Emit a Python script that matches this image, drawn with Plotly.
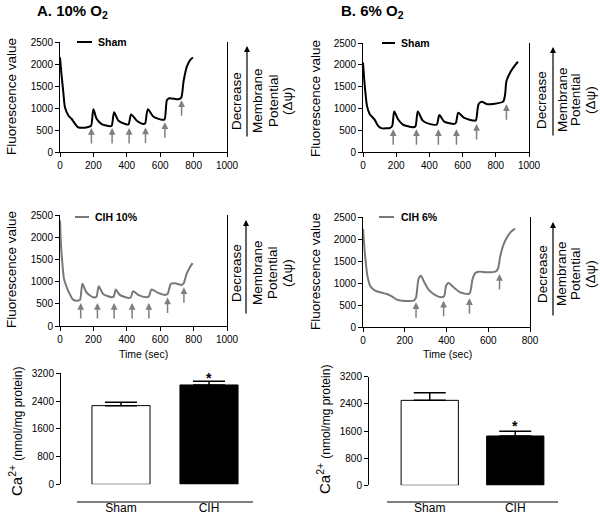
import plotly.graph_objects as go

# ---------------- data ----------------
shamA_t = [0, 8, 20, 30, 50, 70, 90, 106, 120, 170, 186, 200, 220, 250, 300, 310, 324, 350, 390, 410, 426, 460, 500, 510, 526, 560, 610, 626, 640, 654, 710, 726, 740, 760, 780, 796]
shamA_v = [2150, 1800, 1350, 1010, 830, 750, 640, 565, 550, 570, 595, 973, 749, 636, 584, 600, 906, 711, 636, 625, 853, 711, 636, 650, 973, 801, 734, 740, 1175, 1220, 1198, 1235, 1609, 1946, 2096, 2148]

shamB_t = [0, 10, 24, 40, 70, 90, 110, 164, 176, 188, 210, 240, 300, 316, 330, 360, 400, 444, 460, 490, 550, 560, 574, 610, 670, 680, 696, 714, 750, 780, 844, 856, 864, 890, 920, 934]
shamB_v = [2050, 1545, 1057, 870, 742, 607, 547, 555, 600, 930, 757, 630, 570, 590, 930, 720, 645, 630, 847, 697, 645, 670, 900, 780, 720, 725, 1095, 1155, 1095, 1100, 1155, 1320, 1620, 1845, 2010, 2070]

cihA_t = [0, 4, 12, 24, 44, 58, 78, 108, 120, 134, 158, 198, 218, 232, 258, 308, 322, 334, 358, 408, 424, 438, 468, 518, 532, 548, 588, 628, 644, 664, 688, 728, 740, 758, 778, 794]
cihA_v = [2380, 1965, 1513, 1062, 836, 723, 595, 572, 590, 949, 760, 648, 660, 896, 723, 648, 665, 821, 700, 633, 650, 783, 700, 648, 665, 821, 745, 700, 720, 949, 964, 926, 960, 1175, 1325, 1416]

cihB_t = [0, 10, 21, 34, 58, 82, 114, 138, 162, 186, 245, 254, 266, 277, 290, 314, 346, 378, 389, 398, 410, 434, 466, 506, 514, 525, 538, 554, 594, 634, 646, 658, 674, 690, 706, 728]
cihB_v = [2230, 1621, 1167, 939, 826, 788, 750, 697, 621, 598, 606, 670, 1091, 1167, 1053, 849, 727, 674, 700, 939, 1000, 902, 788, 750, 800, 1091, 1227, 1258, 1242, 1258, 1318, 1621, 1886, 2038, 2152, 2235]

# addition arrows (time, tip value)
shamA_arrow_t = [188, 312, 414, 512, 628, 728]
shamA_arrow_v = [546, 546, 546, 555, 674, 1175]
shamB_arrow_t = [182, 322, 454, 563, 684, 864]
shamB_arrow_v = [520, 520, 520, 520, 645, 1095]
cihA_arrow_t = [124, 224, 324, 432, 532, 644, 742]
cihA_arrow_v = [520, 520, 520, 520, 520, 640, 873]
cihB_arrow_t = [254, 386, 510, 654]
cihB_arrow_v = [560, 598, 651, 1204]

bar_cats = ["Sham", "CIH"]
ca_10 = [2268, 2864]
ca_10_err = [96, 105]
ca_6 = [2503, 1453]
ca_6_err = [226, 137]

fluo_ticks = [0, 500, 1000, 1500, 2000, 2500]
ca_ticks = [0, 800, 1600, 2400, 3200]

# ---------------- helpers ----------------
W, H = 600, 516
def fx(p): return p / W
def fy(p): return 1 - p / H

FONT = "Liberation Sans, Arial, Helvetica, sans-serif"
GRAY = "#787878"
ARROWC = "#7f7f7f"

fig = go.Figure()

def add_curve(t, v, color, ax):
    fig.add_trace(go.Scatter(x=t, y=v, mode="lines",
                             line=dict(color=color, width=2, shape="spline", smoothing=0.7),
                             xaxis="x" + ax, yaxis="y" + ax, hoverinfo="skip"))

add_curve(shamA_t, shamA_v, "black", "")
add_curve(shamB_t, shamB_v, "black", "2")
add_curve(cihA_t, cihA_v, GRAY, "3")
add_curve(cihB_t, cihB_v, GRAY, "4")

fig.add_trace(go.Bar(x=bar_cats, y=ca_10, width=0.66,
                     marker=dict(color=["white", "black"], line=dict(color="black", width=1)),
                     error_y=dict(type="data", array=ca_10_err, arrayminus=[0, 0], symmetric=False,
                                  color="black", thickness=1.5, width=16),
                     xaxis="x5", yaxis="y5", hoverinfo="skip"))
fig.add_trace(go.Bar(x=bar_cats, y=ca_6, width=0.67,
                     marker=dict(color=["white", "black"], line=dict(color="black", width=1)),
                     error_y=dict(type="data", array=ca_6_err, arrayminus=[0, 0], symmetric=False,
                                  color="black", thickness=1.5, width=16),
                     xaxis="x6", yaxis="y6", hoverinfo="skip"))

common = dict(showline=True, linecolor="black", linewidth=1, ticks="outside", ticklen=4,
              tickcolor="black", tickwidth=1, showgrid=False, zeroline=False, automargin=False,
              tickfont=dict(size=10, color="black", family=FONT), fixedrange=True)

def line_axes(n, xd, yd, xmax, xt):
    s = "" if n == 1 else str(n)
    xa = dict(common, domain=[fx(xd[0]), fx(xd[1])], range=[0, xmax], tickvals=xt, anchor="y" + s)
    ya = dict(common, domain=[fy(yd[1]), fy(yd[0])], range=[0, 2500], tickvals=fluo_ticks,
              anchor="x" + s, mirror=True)
    fig.layout["xaxis" + s] = xa
    fig.layout["yaxis" + s] = ya

line_axes(1, (60, 227), (42, 152), 1000, [0, 200, 400, 600, 800, 1000])
line_axes(2, (363, 529), (43, 152), 1000, [0, 200, 400, 600, 800, 1000])
line_axes(3, (60, 227), (215, 326), 1000, [0, 200, 400, 600, 800, 1000])
line_axes(4, (363, 530), (217, 327), 800, [0, 200, 400, 600, 800])

shapes = []

def bar_axes(n, xd, xline_y, label_y, yd, yx):
    s = str(n)
    fig.layout["xaxis" + s] = dict(common, domain=[fx(xd[0]), fx(xd[1])], range=[-0.5, 1.5],
                                   anchor="free", position=fy(label_y), ticks="", ticklen=0,
                                   showline=False,
                                   tickfont=dict(size=12, color="black", family=FONT))
    fig.layout["yaxis" + s] = dict(common, domain=[fy(yd[1]), fy(yd[0])], range=[0, 3200],
                                   tickvals=ca_ticks, anchor="free", position=fx(yx))
    shapes.append(dict(type="line", xref="x%s domain" % s, yref="paper", x0=0, x1=1,
                       y0=fy(xline_y), y1=fy(xline_y), line=dict(color="black", width=1)))

bar_axes(5, (77, 253), 502, 499, (373.3, 484.3), 60)
bar_axes(6, (387, 558), 502, 499, (376.7, 485.3), 368)

ann = []

def arrows(ts, vs, ax):
    for t, v in zip(ts, vs):
        ann.append(dict(x=t, y=v, xref="x" + ax, yref="y" + ax, showarrow=True, ax=0, ay=17,
                        arrowhead=2, arrowsize=0.9, arrowwidth=1.5, arrowcolor=ARROWC,
                        standoff=0, text=""))

arrows(shamA_arrow_t, shamA_arrow_v, "")
arrows(shamB_arrow_t, shamB_arrow_v, "2")
arrows(cihA_arrow_t, cihA_arrow_v, "3")
arrows(cihB_arrow_t, cihB_arrow_v, "4")

def txt(x, y, text, size=10, bold=False, angle=0, xanchor="center", color="black"):
    t = "<b>%s</b>" % text if bold else text
    ann.append(dict(x=fx(x), y=fy(y), xref="paper", yref="paper", text=t, showarrow=False,
                    textangle=angle, xanchor=xanchor, yanchor="middle",
                    font=dict(size=size, color=color, family=FONT)))

# panel titles
txt(35, 11, "A. 10% O<sub>2</sub>", size=15, bold=True, xanchor="left")
txt(339, 11, "B. 6% O<sub>2</sub>", size=15, bold=True, xanchor="left")

# y titles
for yc in (97, 270):
    txt(11, yc, "Fluorescence value", size=13.5, angle=-90)
    txt(315, yc + 2, "Fluorescence value", size=13.5, angle=-90)

# legends
def legend(x0, x1, y, label, color, tx):
    shapes.append(dict(type="line", xref="paper", yref="paper", x0=fx(x0), x1=fx(x1),
                       y0=fy(y), y1=fy(y), line=dict(color=color, width=2)))
    txt(tx, y, label, size=10.5, bold=True, xanchor="left")

legend(77, 92, 42, "Sham", "black", 96)
legend(382, 395, 43, "Sham", "black", 399)
legend(75, 89, 217, "CIH 10%", GRAY, 93)
legend(379, 394, 217, "CIH 6%", GRAY, 399)

# right-side membrane potential notes
def mp(xd, xm, xp, xpsi, yc, xa, ytop, ybot):
    txt(xd, yc, "Decrease", size=13.5, angle=-90)
    txt(xm, yc, "Membrane", size=13.5, angle=-90)
    txt(xp, yc, "Potential", size=13.5, angle=-90)
    txt(xpsi, yc, "(Δψ)", size=13.5, angle=-90)
    ann.append(dict(x=fx(xa), y=fy(ytop), xref="paper", yref="paper", showarrow=True,
                    ax=0, ay=ybot - ytop, arrowhead=2, arrowsize=1, arrowwidth=1.2,
                    arrowcolor="black", standoff=0, text=""))

mp(236, 257, 273, 287, 101, 247, 46, 138)
mp(236, 257, 272, 287, 273, 246, 220, 315)
mp(541, 562, 575, 590, 100, 553, 47, 137)
mp(542, 561, 575, 590, 274, 553, 222, 317)

# time labels
txt(143, 354, "Time (sec)", size=10.5)
txt(447, 354, "Time (sec)", size=10.5)

# Ca titles
txt(15, 432, "Ca<sup>2+</sup> <span style='font-size:12px'>(nmol/mg protein)</span>", size=15, angle=-90)
txt(323, 430, "Ca<sup>2+</sup> <span style='font-size:12px'>(nmol/mg protein)</span>", size=15, angle=-90)

# significance stars
for ax, vals, errs, sh in (("5", ca_10, ca_10_err, 3), ("6", ca_6, ca_6_err, 5)):
    ann.append(dict(x="CIH", y=vals[1] + errs[1], xref="x" + ax, yref="y" + ax, text="<b>*</b>",
                    showarrow=False, yanchor="middle", yshift=sh,
                    font=dict(size=14, color="black", family=FONT)))

fig.update_layout(width=W, height=H, margin=dict(l=0, r=0, t=0, b=0, autoexpand=False),
                  paper_bgcolor="white", plot_bgcolor="white", showlegend=False,
                  annotations=ann, shapes=shapes, barmode="group", hovermode=False,
                  font=dict(family=FONT, color="black"))

fig.write_html("out.html", config={"displayModeBar": False, "staticPlot": True},
               post_script="document.body.style.margin='0';document.body.style.overflow='hidden';")
